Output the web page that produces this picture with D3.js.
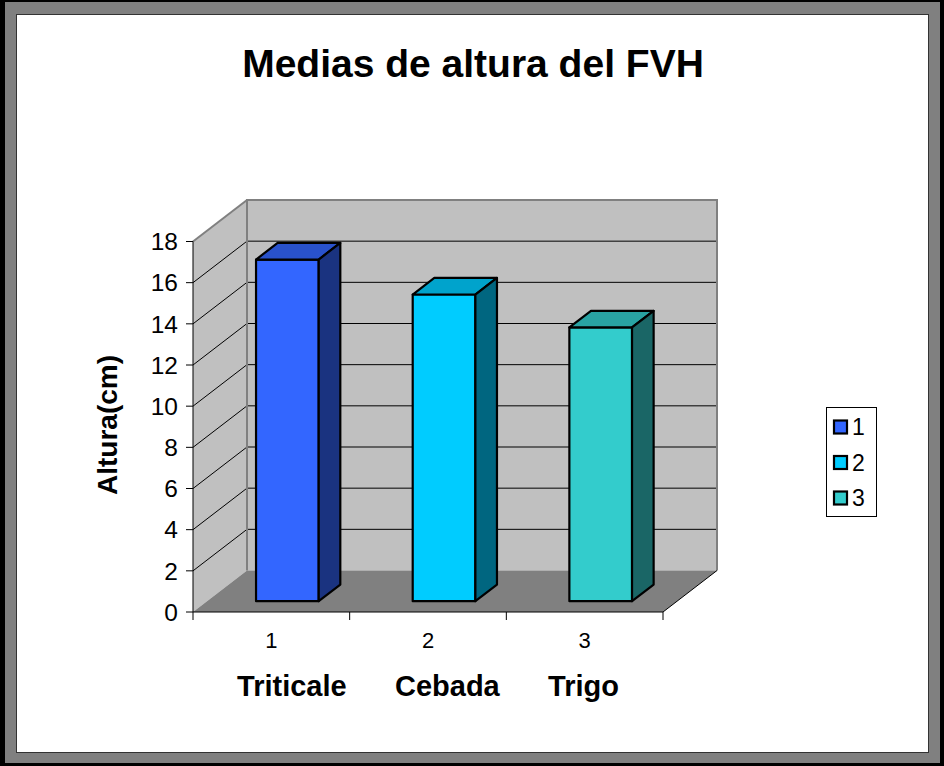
<!DOCTYPE html>
<html>
<head>
<meta charset="utf-8">
<script src="https://cdn.jsdelivr.net/npm/d3@7"></script>
<style>
	body { margin: 0; background: #fff; }
	text { font-family: Arial, "Liberation Sans", sans-serif; }
</style>
</head>
<body>
<svg></svg>
<script>
// data
const categories = ["1", "2", "3"];
const values = [16.6, 14.9, 13.3];
const yTicks = [0, 2, 4, 6, 8, 10, 12, 14, 16, 18];
const frontColors = ["#3366FF", "#00CCFF", "#33CCCC"];
const topColors = ["#2952CC", "#00A3CC", "#29A3A3"];
const sideColors = ["#1A3380", "#006680", "#1A6666"];
const chartTitle = "Medias de altura del FVH";
const yTitle = "Altura(cm)";
const xTitle = "Triticale      Cebada      Trigo";

const size = { w: 944, h: 766 };
const plot = { l: 193, r: 663, t: 241.5, b: 612 };
const depth = { dx: 54, dy: -41.5 }; // offset of the back wall
const svg = d3.select("svg").attr("width", size.w).attr("height", size.h);

// ---- frame ----
svg.append("rect").attr("width", size.w).attr("height", size.h).attr("fill", "#000");
svg.append("rect").attr("x", 5).attr("y", 2).attr("width", 935).attr("height", 761).attr("fill", "#808080");
svg.append("rect")
	.attr("x", 16.5).attr("y", 14.5).attr("width", 912).attr("height", 738)
	.attr("fill", "#fff").attr("stroke", "#333").attr("stroke-width", 1);

// scales
const x = d3.scaleBand().domain(categories).range([plot.l, plot.r]);
const y = d3.scaleLinear().domain([0, 18]).range([plot.b, plot.t]);

// project a point at depth fraction f (0 = front, 1 = back wall)
const pt = (px, py, f) => [px + depth.dx * f, py + depth.dy * f];
const poly = (pts) => "M" + pts.map((p) => p.join(",")).join("L") + "Z";

const wallsG = svg.append("g").classed("walls", true);

// back wall
wallsG.append("path")
	.attr("d", poly([pt(plot.l, y(18), 1), pt(plot.r, y(18), 1), pt(plot.r, y(0), 1), pt(plot.l, y(0), 1)]))
	.attr("fill", "#C0C0C0");
// side wall
wallsG.append("path")
	.attr("d", poly([pt(plot.l, y(18), 0), pt(plot.l, y(18), 1), pt(plot.l, y(0), 1), pt(plot.l, y(0), 0)]))
	.attr("fill", "#C0C0C0");
// floor
wallsG.append("path")
	.attr("d", poly([pt(plot.l, y(0), 0), pt(plot.l, y(0), 1), pt(plot.r, y(0), 1), pt(plot.r, y(0), 0)]))
	.attr("fill", "#808080");

// grid lines (back wall + side wall)
const gridVals = yTicks.filter((d) => d > 0 && d < 18);
wallsG.selectAll("line.hgrid")
	.data(gridVals)
	.join("line")
	.classed("hgrid", true)
	.attr("x1", (d) => pt(plot.l, y(d), 1)[0])
	.attr("y1", (d) => pt(plot.l, y(d), 1)[1])
	.attr("x2", (d) => pt(plot.r, y(d), 1)[0])
	.attr("y2", (d) => pt(plot.r, y(d), 1)[1])
	.attr("stroke", "#000");
wallsG.selectAll("line.dgrid")
	.data(gridVals)
	.join("line")
	.classed("dgrid", true)
	.attr("x1", plot.l)
	.attr("y1", (d) => y(d))
	.attr("x2", (d) => pt(plot.l, y(d), 1)[0])
	.attr("y2", (d) => pt(plot.l, y(d), 1)[1])
	.attr("stroke", "#000");

// wall edges in gray
wallsG.append("path")
	.attr("d", "M" + [pt(plot.l, y(0), 1), pt(plot.l, y(18), 1), pt(plot.r, y(18), 1), pt(plot.r, y(0), 1)].map((p) => p.join(",")).join("L"))
	.attr("fill", "none").attr("stroke", "#808080").attr("stroke-width", 2);
wallsG.append("line")
	.attr("x1", plot.l).attr("y1", y(18))
	.attr("x2", pt(plot.l, y(18), 1)[0]).attr("y2", pt(plot.l, y(18), 1)[1])
	.attr("stroke", "#808080").attr("stroke-width", 2);
// floor right edge
wallsG.append("line")
	.attr("x1", plot.r).attr("y1", y(0))
	.attr("x2", pt(plot.r, y(0), 1)[0]).attr("y2", pt(plot.r, y(0), 1)[1])
	.attr("stroke", "#000");

// ---- bars ----
const f0 = 0.26, f1 = 0.66; // front and back of the bars
const barW = x.bandwidth() * 0.4;
const bars = categories.map((c, i) => ({ c, v: values[i], i }));
const barsG = svg.append("g").classed("bars", true);

bars.forEach((d) => {
	const x0 = x(d.c) + (x.bandwidth() - barW) / 2 + 2;
	const x1 = x0 + barW;
	const g = barsG.append("g");
	// front
	g.append("path")
		.attr("d", poly([pt(x0, y(d.v), f0), pt(x1, y(d.v), f0), pt(x1, y(0), f0), pt(x0, y(0), f0)]))
		.attr("fill", frontColors[d.i]);
	// top
	g.append("path")
		.attr("d", poly([pt(x0, y(d.v), f0), pt(x0, y(d.v), f1), pt(x1, y(d.v), f1), pt(x1, y(d.v), f0)]))
		.attr("fill", topColors[d.i]);
	// side
	g.append("path")
		.attr("d", poly([pt(x1, y(d.v), f0), pt(x1, y(d.v), f1), pt(x1, y(0), f1), pt(x1, y(0), f0)]))
		.attr("fill", sideColors[d.i]);
	g.selectAll("path").attr("stroke", "#000").attr("stroke-width", 2.2).attr("stroke-linejoin", "round");
});

// ---- axes ----
const axisG = svg.append("g").classed("axes", true);
axisG.append("line")
	.attr("x1", plot.l).attr("y1", y(0)).attr("x2", plot.l).attr("y2", y(18))
	.attr("stroke", "#000");
axisG.append("line")
	.attr("x1", plot.l).attr("y1", y(0)).attr("x2", plot.r).attr("y2", y(0))
	.attr("stroke", "#000");

axisG.selectAll("line.ytick")
	.data(yTicks)
	.join("line")
	.classed("ytick", true)
	.attr("x1", plot.l - 7).attr("x2", plot.l)
	.attr("y1", (d) => y(d)).attr("y2", (d) => y(d))
	.attr("stroke", "#000");
axisG.selectAll("text.ylab")
	.data(yTicks)
	.join("text")
	.classed("ylab", true)
	.attr("x", plot.l - 15)
	.attr("y", (d) => y(d))
	.attr("dy", "0.36em")
	.attr("text-anchor", "end")
	.attr("font-size", 24.5)
	.text((d) => d);

// x ticks at band edges
const xEdges = categories.map((c) => x(c)).concat([plot.r]);
axisG.selectAll("line.xtick")
	.data(xEdges)
	.join("line")
	.classed("xtick", true)
	.attr("x1", (d) => d).attr("x2", (d) => d)
	.attr("y1", y(0)).attr("y2", y(0) + 8)
	.attr("stroke", "#000");
axisG.selectAll("text.xlab")
	.data(categories)
	.join("text")
	.classed("xlab", true)
	.attr("x", (d) => x(d) + x.bandwidth() / 2)
	.attr("y", 648)
	.attr("text-anchor", "middle")
	.attr("font-size", 22)
	.text((d) => d);

// titles
svg.append("text")
	.attr("x", 473).attr("y", 77)
	.attr("text-anchor", "middle")
	.attr("font-size", 39).attr("font-weight", "bold")
	.text(chartTitle);
svg.append("text")
	.attr("transform", "translate(117,425) rotate(-90)")
	.attr("text-anchor", "middle")
	.attr("font-size", 28).attr("font-weight", "bold")
	.text(yTitle);
svg.append("text")
	.attr("x", (plot.l + plot.r) / 2).attr("y", 696)
	.attr("text-anchor", "middle")
	.attr("font-size", 29).attr("font-weight", "bold")
	.style("white-space", "pre")
	.text(xTitle);

// ---- legend ----
const legendG = svg.append("g").classed("legend", true).attr("transform", "translate(826,407)");
legendG.append("rect")
	.attr("x", 0.5).attr("y", 0.5).attr("width", 50).attr("height", 109)
	.attr("fill", "#fff").attr("stroke", "#000");
const items = legendG.selectAll("g.item")
	.data(categories)
	.join("g")
	.classed("item", true)
	.attr("transform", (d, i) => `translate(0,${20 + i * 35.5})`);
items.append("rect")
	.attr("x", 8).attr("y", -6.5).attr("width", 13).attr("height", 13)
	.attr("fill", (d, i) => frontColors[i])
	.attr("stroke", "#000").attr("stroke-width", 2.2);
items.append("text")
	.attr("x", 26).attr("y", 0).attr("dy", "0.36em")
	.attr("font-size", 23)
	.text((d) => d);
</script>
</body>
</html>
